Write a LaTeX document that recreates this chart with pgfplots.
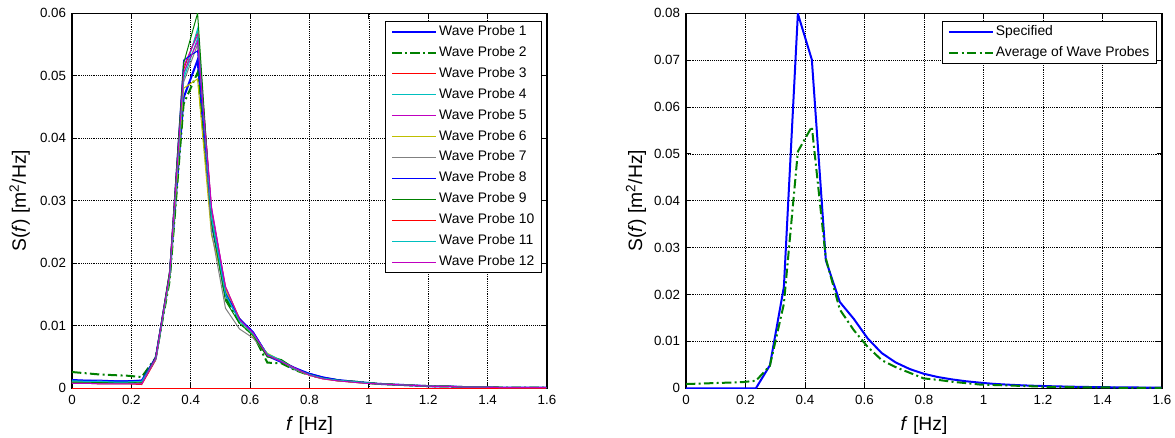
\documentclass[border=0pt]{standalone}
\usepackage{pgfplots}
\pgfplotsset{compat=1.18}
\usepackage{pgfplotstable}
\usepackage{fontspec}
\setmainfont{Liberation Sans}
\definecolor{mgreen}{rgb}{0,0.5,0}
\definecolor{mcyan}{rgb}{0,0.75,0.75}
\definecolor{mmag}{rgb}{0.75,0,0.75}
\definecolor{myel}{rgb}{0.75,0.75,0}
\definecolor{mgray}{rgb}{0.5,0.5,0.5}

\pgfplotstableread{
f     p1     p2     p3     p4     p5     p6     p7     p8     p9     p10 p11    p12
0.000 0.0012 0.0026 0.0008 0.0011 0.0009 0.0010 0.0009 0.0014 0.0010 0 0.0012 0.0008
0.047 0.0012 0.0024 0.0008 0.0011 0.0009 0.0010 0.0009 0.0013 0.0010 0 0.0011 0.0008
0.094 0.0011 0.0022 0.0007 0.0010 0.0008 0.0009 0.0008 0.0013 0.0009 0 0.0011 0.0007
0.141 0.0011 0.0021 0.0007 0.0010 0.0008 0.0009 0.0008 0.0012 0.0009 0 0.0010 0.0007
0.188 0.0011 0.0020 0.0007 0.0010 0.0008 0.0009 0.0008 0.0012 0.0009 0 0.0010 0.0007
0.235 0.0012 0.0018 0.0006 0.0011 0.0009 0.0010 0.0008 0.0013 0.0010 0 0.0011 0.0007
0.282 0.0048 0.0049 0.0045 0.0047 0.0049 0.0048 0.0046 0.0050 0.0049 0 0.0047 0.0048
0.329 0.0180 0.0172 0.0185 0.0178 0.0184 0.0176 0.0182 0.0186 0.0188 0 0.0179 0.0183
0.376 0.0465 0.0455 0.0510 0.0500 0.0515 0.0480 0.0490 0.0525 0.0520 0 0.0495 0.0505
0.423 0.0525 0.0505 0.0570 0.0575 0.0565 0.0495 0.0550 0.0540 0.0600 0 0.0560 0.0555
0.470 0.0265 0.0270 0.0285 0.0275 0.0290 0.0245 0.0250 0.0270 0.0268 0 0.0272 0.0288
0.517 0.0150 0.0145 0.0162 0.0155 0.0160 0.0158 0.0128 0.0152 0.0140 0 0.0150 0.0163
0.564 0.0110 0.0105 0.0112 0.0108 0.0110 0.0112 0.0095 0.0112 0.0104 0 0.0108 0.0110
0.611 0.0088 0.0085 0.0086 0.0087 0.0086 0.0082 0.0080 0.0090 0.0084 0 0.0086 0.0088
0.658 0.0052 0.0041 0.0054 0.0055 0.0053 0.0056 0.0052 0.0054 0.0050 0 0.0055 0.0053
0.705 0.0042 0.0040 0.0044 0.0045 0.0043 0.0044 0.0043 0.0043 0.0046 0 0.0044 0.0043
0.752 0.0030 0.0029 0.0031 0.0032 0.0031 0.0030 0.0030 0.0033 0.0031 0 0.0031 0.0032
0.799 0.0023 0.0021 0.0021 0.0022 0.0022 0.0021 0.0021 0.0024 0.0022 0 0.0022 0.0021
0.846 0.0017 0.0016 0.0015 0.0016 0.0016 0.0015 0.0016 0.0018 0.0016 0 0.0016 0.0015
0.893 0.0013 0.0013 0.0012 0.0013 0.0013 0.0012 0.0013 0.0014 0.0013 0 0.0013 0.0012
0.940 0.0011 0.0011 0.0010 0.0011 0.0011 0.0010 0.0011 0.0011 0.0011 0 0.0011 0.0010
0.987 0.0009 0.0009 0.0008 0.0009 0.0009 0.0008 0.0009 0.0009 0.0009 0 0.0009 0.0008
1.034 0.0007 0.0007 0.0007 0.0007 0.0007 0.0007 0.0007 0.0007 0.0007 0 0.0007 0.0007
1.081 0.0006 0.0006 0.0006 0.0006 0.0006 0.0006 0.0006 0.0006 0.0006 0 0.0006 0.0006
1.128 0.0005 0.0005 0.0005 0.0005 0.0005 0.0005 0.0005 0.0005 0.0005 0 0.0005 0.0005
1.175 0.0004 0.0004 0.0004 0.0004 0.0004 0.0004 0.0004 0.0004 0.0004 0 0.0004 0.0004
1.222 0.0003 0.0003 0.0003 0.0003 0.0003 0.0003 0.0003 0.0003 0.0003 0 0.0003 0.0003
1.269 0.0003 0.0003 0.0003 0.0003 0.0003 0.0003 0.0003 0.0003 0.0003 0 0.0003 0.0003
1.316 0.0002 0.0002 0.0002 0.0002 0.0002 0.0002 0.0002 0.0002 0.0002 0 0.0002 0.0002
1.363 0.0002 0.0002 0.0002 0.0002 0.0002 0.0002 0.0002 0.0002 0.0002 0 0.0002 0.0002
1.410 0.00015 0.00015 0.00015 0.00015 0.00015 0.00015 0.00015 0.00015 0.00015 0 0.00015 0.00015
1.457 0.0001 0.0001 0.0001 0.0001 0.0001 0.0001 0.0001 0.0001 0.0001 0 0.0001 0.0001
1.504 0.0001 0.0001 0.0001 0.0001 0.0001 0.0001 0.0001 0.0001 0.0001 0 0.0001 0.0001
1.551 0.0001 0.0001 0.0001 0.0001 0.0001 0.0001 0.0001 0.0001 0.0001 0 0.0001 0.0001
1.598 0.0001 0.0001 0.0001 0.0001 0.0001 0.0001 0.0001 0.0001 0.0001 0 0.0001 0.0001
}\probes

\pgfplotstableread{
f     spec    avg
0.000 0       0.0009
0.047 0       0.0010
0.094 0       0.0011
0.141 0       0.0012
0.188 0       0.0013
0.235 0       0.0016
0.282 0.0049  0.0048
0.329 0.0216  0.0180
0.376 0.0799  0.0505
0.423 0.0701  0.0558
0.470 0.0273  0.0277
0.517 0.0184  0.0168
0.564 0.0148  0.0124
0.611 0.0106  0.0088
0.658 0.0075  0.0060
0.705 0.0055  0.0045
0.752 0.0041  0.0033
0.799 0.0031  0.0021
0.846 0.0024  0.0018
0.893 0.0019  0.0014
0.940 0.0015  0.0011
0.987 0.0012  0.0008
1.034 0.00094 0.0007
1.081 0.00077 0.0006
1.128 0.00063 0.0005
1.175 0.00052 0.0004
1.222 0.00044 0.0003
1.269 0.00037 0.0003
1.316 0.00031 0.0002
1.363 0.00026 0.0002
1.410 0.00023 0.0002
1.457 0.00019 0.0001
1.504 0.00017 0.0001
1.551 0.00015 0.0001
1.598 0.00013 0.0001
}\avgtab

\pgfplotsset{
  matstyle/.style={
    scale only axis,
    height=281.25pt,
    xmin=0, xmax=1.6, ymin=0,
    scaled x ticks=false, scaled y ticks=false,
    xtick={0,0.2,0.4,0.6,0.8,1,1.2,1.4,1.6},
    xticklabels={0,0.2,0.4,0.6,0.8,1,1.2,1.4,1.6},
    grid=major,
    major grid style={black, densely dotted, line width=0.5pt},
    axis line style={black, line width=0.8pt},
    tick style={black, line width=0.6pt},
    major tick length=4pt,
    /pgf/number format/assume math mode=true,
    tick label style={font=\fontsize{10}{12}\selectfont},
    xticklabel style={yshift=-2pt},
    yticklabel style={xshift=-1pt},
    label style={font=\fontsize{14.5}{17}\selectfont},
    xlabel={\textit{f} [Hz]},
    ylabel={S(\textit{f}) [m\textsuperscript{2}/Hz]},
    xlabel style={at={(axis description cs:0.5,-0.098)}, anchor=center},
    ylabel style={at={(axis description cs:-0.11,0.5)}, anchor=center},
    legend cell align=left,
    legend style={font=\fontsize{10.4}{12}\selectfont, draw=black, line width=0.6pt, fill=white,
      at={(0.9895,0.9794)}, anchor=north east,
      inner xsep=4pt, inner ysep=1.5pt, row sep=3pt,
      nodes={inner sep=1.5pt, text height=7.5pt, text depth=2.2pt}},
    legend image code/.code={\draw[#1] (0pt,0pt) -- (33pt,0pt);},
  }
}

\begin{document}
\begin{tikzpicture}
\useasboundingbox (0,0) rectangle (881.25pt,328.5pt);
\begin{axis}[matstyle, at={(54pt,37.3pt)}, anchor=south west, width=356.25pt,
  ymax=0.06,
  ytick={0,0.01,0.02,0.03,0.04,0.05,0.06},
  yticklabels={0,0.01,0.02,0.03,0.04,0.05,0.06}]
\addplot[blue, line width=1.5pt] table[x=f,y=p1] {\probes};
\addlegendentry{Wave Probe 1}
\addplot[mgreen, line width=1.5pt, dash pattern=on 7pt off 2.5pt on 1.5pt off 2.5pt] table[x=f,y=p2] {\probes};
\addlegendentry{Wave Probe 2}
\addplot[red, line width=0.75pt] table[x=f,y=p3] {\probes};
\addlegendentry{Wave Probe 3}
\addplot[mcyan, line width=0.75pt] table[x=f,y=p4] {\probes};
\addlegendentry{Wave Probe 4}
\addplot[mmag, line width=0.75pt] table[x=f,y=p5] {\probes};
\addlegendentry{Wave Probe 5}
\addplot[myel, line width=0.75pt] table[x=f,y=p6] {\probes};
\addlegendentry{Wave Probe 6}
\addplot[mgray, line width=0.75pt] table[x=f,y=p7] {\probes};
\addlegendentry{Wave Probe 7}
\addplot[blue, line width=0.75pt] table[x=f,y=p8] {\probes};
\addlegendentry{Wave Probe 8}
\addplot[mgreen, line width=0.75pt] table[x=f,y=p9] {\probes};
\addlegendentry{Wave Probe 9}
\addplot[red, line width=0.75pt] table[x=f,y=p10] {\probes};
\addlegendentry{Wave Probe 10}
\addplot[mcyan, line width=0.75pt] table[x=f,y=p11] {\probes};
\addlegendentry{Wave Probe 11}
\addplot[mmag, line width=0.75pt] table[x=f,y=p12] {\probes};
\addlegendentry{Wave Probe 12}
\end{axis}
\begin{axis}[matstyle, at={(514.5pt,37.3pt)}, anchor=south west, width=357pt,
  ymax=0.08,
  ytick={0,0.01,0.02,0.03,0.04,0.05,0.06,0.07,0.08},
  yticklabels={0,0.01,0.02,0.03,0.04,0.05,0.06,0.07,0.08},
  ylabel style={at={(axis description cs:-0.105,0.5)}, anchor=center}]
\addplot[blue, line width=1.5pt] table[x=f,y=spec] {\avgtab};
\addlegendentry{Specified}
\addplot[mgreen, line width=1.5pt, dash pattern=on 7pt off 2.5pt on 1.5pt off 2.5pt] table[x=f,y=avg] {\avgtab};
\addlegendentry{Average of Wave Probes}
\end{axis}
\end{tikzpicture}
\end{document}
